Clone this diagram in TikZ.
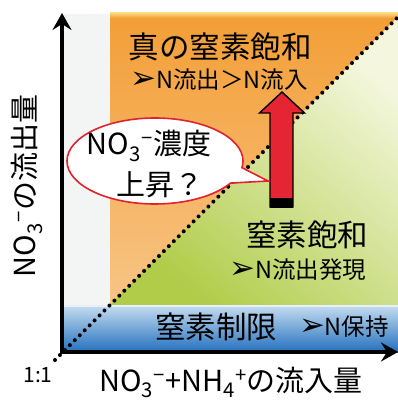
\documentclass[tikz,border=0pt]{standalone}
\usepackage{fontspec}
\setmainfont{Noto Sans CJK JP}
\newfontfamily\dv{DejaVu Sans}
\usetikzlibrary{arrows.meta,shapes.callouts}
\newcommand\arr{{\dv\fontsize{31}{31}\selectfont\raisebox{0.5pt}{➢}}}
\definecolor{grayStrip}{HTML}{F3F5F5}
\definecolor{orgTop}{HTML}{F39E36}
\definecolor{orgBot}{HTML}{F7C586}
\definecolor{orgEdge}{HTML}{FBD67C}
\definecolor{grnTop}{HTML}{F4F7DE}
\definecolor{grnBot}{HTML}{B0CC48}
\definecolor{bluTop}{HTML}{C6DDF1}
\definecolor{bluBot}{HTML}{2470BE}
\definecolor{redArr}{HTML}{E52531}
\definecolor{redLine}{HTML}{E0222E}
\tikzset{
  big/.style={inner sep=0pt, font=\fontsize{30.5}{34}\selectfont},
  mid/.style={inner sep=0pt, font=\fontsize{29}{32}\selectfont},
  small/.style={inner sep=0pt, font=\fontsize{23.5}{26}\selectfont},
  axis/.style={line width=3.8pt, line join=miter, {Stealth[length=17pt,width=19pt,inset=6pt]}-{Stealth[length=17pt,width=19pt,inset=6pt]}},
  dotline/.style={line width=4pt, line cap=round, dash pattern=on 0pt off 7pt},
  redarrow/.style={fill=redArr, draw=black, line width=1.4pt, line join=miter},
  bubble/.style={ellipse callout, draw=redLine, fill=white, line width=1.6pt, minimum width=176pt, minimum height=86pt, inner sep=0pt, callout pointer arc=22},
}
\begin{document}
\begin{tikzpicture}[x=1pt,y=-1pt]
\useasboundingbox (0,0) rectangle (398,401);
% regions
\fill[grayStrip] (62,14) rectangle (110,305);
\shade[top color=orgTop, bottom color=orgBot] (110,14) rectangle (398,305);
\shade[top color=orgEdge, bottom color=orgTop] (110,13) rectangle (398,18);
\shade[top color=grnTop, bottom color=grnBot, shading angle=-40] (110,305) -- (398,305) -- (398,17) -- cycle;
\shade[top color=bluTop, bottom color=bluBot] (62,305) rectangle (398,352);
\fill[white, opacity=0.6] (62,305) rectangle (398,307);
% diagonal 1:1
\coordinate (d0) at (55,360);
\coordinate (d1) at (397,18);
\draw[dotline] (d0) -- (d1);
% axes
\coordinate (O) at (62,352);
\coordinate (Ytip) at (62,13);
\coordinate (Xtip) at (398,352);
\draw[axis] (Ytip) -- (O) -- (Xtip);
% red arrow
\draw[redarrow] (270,207) -- (270,113) -- (259.5,113) -- (282,92) -- (304.5,113) -- (293,113) -- (293,207) -- cycle;
\fill (270,198) rectangle (293,207);
\draw[line width=1.4pt] (270,207) -- (293,207);
% bubble
\node[bubble, callout absolute pointer={(268,181)}] (bub) at (155,161) {};
\node[mid] (b1) at (149,146) {NO\textsubscript{3}\textsuperscript{−}濃度};
\node[mid] (b2) at (160,185) {上昇？};
% texts
\node[big] (t1) at (220,47) {真の窒素飽和};
\node[small] (t1b) at (219,80) {\arr N流出＞N流入};
\node[big] (t2) at (307,235) {窒素飽和};
\node[small] (t2b) at (298,270) {\arr N流出発現};
\node[big] (t3) at (216,327) {窒素制限};
\node[small] (t3b) at (344,327) {\arr N保持};
\node[mid, rotate=90] (ylab) at (27,186) {NO\textsubscript{3}\textsuperscript{−}の流出量};
\node[mid] (xlab) at (231,382.5) {NO\textsubscript{3}\textsuperscript{−}+NH\textsubscript{4}\textsuperscript{+}の流入量};
\node[inner sep=0pt, font=\fontsize{21}{24}\selectfont] (one) at (38,375) {1:1};
\end{tikzpicture}
\end{document}
